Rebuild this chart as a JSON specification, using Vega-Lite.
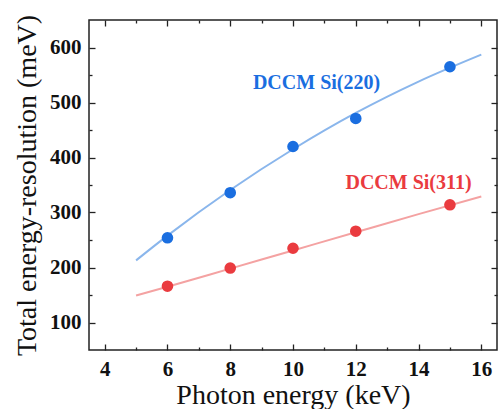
{
  "$schema": "https://vega.github.io/schema/vega-lite/v6.json",
  "width": 408,
  "height": 330,
  "autosize": {"type": "none"},
  "padding": {"left": 89, "top": 20, "right": 2, "bottom": 59},
  "config": {
    "view": {"stroke": "#222", "strokeWidth": 1.5},
    "font": "Liberation Serif",
    "axis": {
      "domain": false, "grid": false, "tickColor": "#222", "tickWidth": 1.3,
      "labelFont": "Liberation Serif", "labelFontWeight": "bold", "labelFontSize": 21, "labelColor": "#111",
      "titleFont": "Liberation Serif", "titleFontWeight": "normal", "titleFontSize": 28, "titleColor": "#111"
    }
  },
  "datasets": {
    "pts": [
      {"x": 6, "y": 254, "series": "Si(220)"},
      {"x": 8, "y": 336, "series": "Si(220)"},
      {"x": 10, "y": 420, "series": "Si(220)"},
      {"x": 12, "y": 471, "series": "Si(220)"},
      {"x": 15, "y": 565, "series": "Si(220)"},
      {"x": 6, "y": 166, "series": "Si(311)"},
      {"x": 8, "y": 199, "series": "Si(311)"},
      {"x": 10, "y": 235, "series": "Si(311)"},
      {"x": 12, "y": 266, "series": "Si(311)"},
      {"x": 15, "y": 314, "series": "Si(311)"}
    ],
    "fit": [
      {"x": 5, "y": 213, "series": "Si(220)"},
      {"x": 6, "y": 258, "series": "Si(220)"},
      {"x": 8, "y": 341, "series": "Si(220)"},
      {"x": 10, "y": 415, "series": "Si(220)"},
      {"x": 12, "y": 481, "series": "Si(220)"},
      {"x": 14, "y": 538, "series": "Si(220)"},
      {"x": 16, "y": 587, "series": "Si(220)"},
      {"x": 5, "y": 149, "series": "Si(311)"},
      {"x": 6, "y": 165, "series": "Si(311)"},
      {"x": 8, "y": 198, "series": "Si(311)"},
      {"x": 10, "y": 231, "series": "Si(311)"},
      {"x": 12, "y": 264, "series": "Si(311)"},
      {"x": 14, "y": 297, "series": "Si(311)"},
      {"x": 16, "y": 329, "series": "Si(311)"}
    ],
    "labels": [
      {"x": 10.75, "y": 536, "text": "DCCM Si(220)", "series": "Si(220)"},
      {"x": 13.68, "y": 354, "text": "DCCM Si(311)", "series": "Si(311)"}
    ]
  },
  "resolve": {"axis": {"x": "independent", "y": "independent"}, "scale": {"color": "independent"}},
  "layer": [
    {
      "data": {"name": "fit"},
      "mark": {"type": "line", "interpolate": "monotone", "strokeWidth": 2},
      "encoding": {
        "x": {"field": "x", "type": "quantitative", "scale": {"domain": [3.5, 16.5], "nice": false},
          "axis": {"orient": "bottom", "values": [4, 6, 8, 10, 12, 14, 16], "tickSize": -6, "labelPadding": 14,
            "labelFont": "Liberation Serif", "labelFontWeight": "bold", "labelFontSize": 21,
            "title": "Photon energy (keV)", "titlePadding": 2, "titleFont": "Liberation Serif", "titleFontSize": 28, "titleFontWeight": "normal"}},
        "y": {"field": "y", "type": "quantitative", "scale": {"domain": [50, 650], "nice": false, "zero": false},
          "axis": {"orient": "left", "values": [100, 200, 300, 400, 500, 600], "tickSize": -6, "labelPadding": 14,
            "labelFont": "Liberation Serif", "labelFontWeight": "bold", "labelFontSize": 21,
            "title": "Total energy-resolution (meV)", "titlePadding": 8, "titleFont": "Liberation Serif", "titleFontSize": 28, "titleFontWeight": "normal"}},
        "color": {"field": "series", "type": "nominal", "scale": {"domain": ["Si(220)", "Si(311)"], "range": ["#8ab6ec", "#f4a2a2"]}, "legend": null}
      }
    },
    {
      "data": {"name": "pts"},
      "mark": {"type": "circle", "size": 135, "opacity": 1},
      "encoding": {
        "x": {"field": "x", "type": "quantitative", "scale": {"domain": [3.5, 16.5], "nice": false},
          "axis": {"orient": "top", "values": [4, 6, 8, 10, 12, 14, 16], "tickSize": -6, "labels": false, "title": null}},
        "y": {"field": "y", "type": "quantitative", "scale": {"domain": [50, 650], "nice": false, "zero": false},
          "axis": {"orient": "right", "values": [100, 200, 300, 400, 500, 600], "tickSize": -6, "labels": false, "title": null}},
        "color": {"field": "series", "type": "nominal", "scale": {"domain": ["Si(220)", "Si(311)"], "range": ["#1a6ee0", "#ea3b3f"]}, "legend": null}
      }
    },
    {
      "data": {"name": "labels"},
      "mark": {"type": "text", "font": "Liberation Serif", "fontWeight": "bold", "fontSize": 20, "align": "center", "baseline": "middle"},
      "encoding": {
        "x": {"field": "x", "type": "quantitative", "scale": {"domain": [3.5, 16.5], "nice": false},
          "axis": {"orient": "bottom", "values": [5, 7, 9, 11, 13, 15], "tickSize": -3, "labels": false, "title": null}},
        "y": {"field": "y", "type": "quantitative", "scale": {"domain": [50, 650], "nice": false, "zero": false},
          "axis": {"orient": "left", "values": [150, 250, 350, 450, 550], "tickSize": -3, "labels": false, "title": null}},
        "text": {"field": "text"},
        "color": {"field": "series", "type": "nominal", "scale": {"domain": ["Si(220)", "Si(311)"], "range": ["#1a6ee0", "#ea3b3f"]}, "legend": null}
      }
    },
    {
      "data": {"name": "pts"},
      "mark": {"type": "circle", "size": 10, "opacity": 0},
      "encoding": {
        "x": {"field": "x", "type": "quantitative", "scale": {"domain": [3.5, 16.5], "nice": false},
          "axis": {"orient": "top", "values": [5, 7, 9, 11, 13, 15], "tickSize": -3, "labels": false, "title": null}},
        "y": {"field": "y", "type": "quantitative", "scale": {"domain": [50, 650], "nice": false, "zero": false},
          "axis": {"orient": "right", "values": [150, 250, 350, 450, 550], "tickSize": -3, "labels": false, "title": null}}
      }
    }
  ]
}
